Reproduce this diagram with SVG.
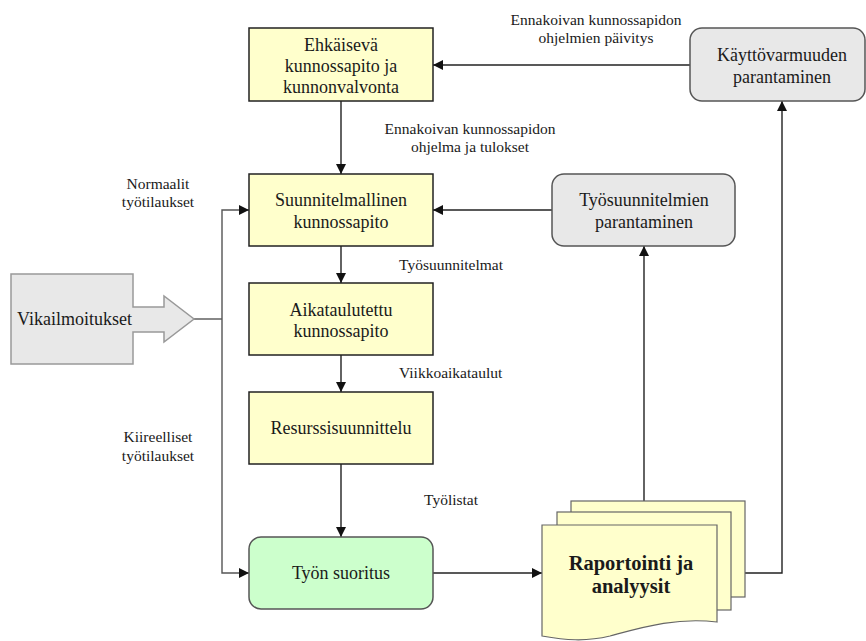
<svg xmlns="http://www.w3.org/2000/svg" width="866" height="641" viewBox="0 0 866 641">
<defs>
<marker id="ah" viewBox="0 0 10 10" refX="10" refY="5" markerWidth="10" markerHeight="10" markerUnits="userSpaceOnUse" orient="auto">
<path d="M0,0 L10,5 L0,10 z" fill="#111"/>
</marker>
</defs>
<style>
text{font-family:"Liberation Serif","Times New Roman",serif;fill:#1a1a1a}
.bt{font-size:18px;text-anchor:middle}
.lb{font-size:15.5px}
.c{text-anchor:middle}
.y{fill:#ffffcc;stroke:#222;stroke-width:1.5}
.g{fill:#e8e8e8;stroke:#555;stroke-width:1.5}
.gr{fill:#ccffcc;stroke:#555;stroke-width:1.5}
.doc{fill:#ffffcc;stroke:#666;stroke-width:1.2}
.ln{fill:none;stroke:#222;stroke-width:1.4}
</style>
<rect width="866" height="641" fill="#fff"/>

<g id="connectors">
<path class="ln" d="M341,101 V174" marker-end="url(#ah)"/>
<path class="ln" d="M341,246 V283" marker-end="url(#ah)"/>
<path class="ln" d="M341,355 V392" marker-end="url(#ah)"/>
<path class="ln" d="M341,464 V537" marker-end="url(#ah)"/>
<path class="ln" d="M690,65 H433" marker-end="url(#ah)"/>
<path class="ln" d="M552,210 H433" marker-end="url(#ah)"/>
<path class="ln" d="M194,319 H222" style="stroke:#555"/>
<path class="ln" d="M222,319 V210 H249" style="stroke:#555" marker-end="url(#ah)"/>
<path class="ln" d="M222,319 V573 H249" style="stroke:#555" marker-end="url(#ah)"/>
<path class="ln" d="M433,573 H542" marker-end="url(#ah)"/>
<path class="ln" d="M644,501 V246" marker-end="url(#ah)"/>
<path class="ln" d="M745,573 H782 V101" marker-end="url(#ah)"/>
</g>

<g id="labels">
<text class="lb c" x="596" y="25">Ennakoivan kunnossapidon</text>
<text class="lb c" x="596" y="43">ohjelmien päivitys</text>
<text class="lb c" x="470" y="134">Ennakoivan kunnossapidon</text>
<text class="lb c" x="470" y="152">ohjelma ja tulokset</text>
<text class="lb c" x="158" y="189">Normaalit</text>
<text class="lb c" x="158" y="207">työtilaukset</text>
<text class="lb" x="399" y="270">Työsuunnitelmat</text>
<text class="lb" x="399" y="378">Viikkoaikataulut</text>
<text class="lb c" x="158" y="442">Kiireelliset</text>
<text class="lb c" x="158" y="461">työtilaukset</text>
<text class="lb" x="424" y="505">Työlistat</text>
</g>

<g id="ehkaiseva">
<rect class="y" x="249" y="28" width="184" height="73"/>
<text class="bt" x="341" y="51">Ehkäisevä</text>
<text class="bt" x="341" y="72">kunnossapito ja</text>
<text class="bt" x="341" y="93">kunnonvalvonta</text>
</g>

<g id="suunnitelmallinen">
<rect class="y" x="249" y="174" width="184" height="72"/>
<text class="bt" x="341" y="206">Suunnitelmallinen</text>
<text class="bt" x="341" y="228">kunnossapito</text>
</g>

<g id="aikataulutettu">
<rect class="y" x="249" y="283" width="184" height="72"/>
<text class="bt" x="341" y="316">Aikataulutettu</text>
<text class="bt" x="341" y="337">kunnossapito</text>
</g>

<g id="resurssi">
<rect class="y" x="249" y="392" width="184" height="72"/>
<text class="bt" x="341" y="434">Resurssisuunnittelu</text>
</g>

<g id="tyon-suoritus">
<rect class="gr" x="249" y="537" width="184" height="72" rx="12"/>
<text class="bt" x="341" y="579">Työn suoritus</text>
</g>

<g id="vikailmoitukset">
<path class="g" d="M11,274 H133 V307 H164 V296 L194,319 L164,342 V332 H133 V364 H11 Z" style="stroke:#999"/>
<text style="font-size:18px" x="17" y="325">Vikailmoitukset</text>
</g>

<g id="kayttovarmuus">
<rect class="g" x="690" y="28" width="175" height="73" rx="12"/>
<text class="bt" x="782" y="61">Käyttövarmuuden</text>
<text class="bt" x="782" y="83">parantaminen</text>
</g>

<g id="tyosuunnitelmien">
<rect class="g" x="552" y="174" width="183" height="72" rx="12"/>
<text class="bt" x="644" y="206">Työsuunnitelmien</text>
<text class="bt" x="644" y="228">parantaminen</text>
</g>

<g id="raportointi">
<rect class="doc" x="571" y="501" width="174" height="96"/>
<rect class="doc" x="557" y="512" width="174" height="98"/>
<path class="doc" d="M542,525 H717 V622 C675,617 640,628 610,636 C585,642 565,640 542,636 Z"/>
<text x="631" y="570" style="font-size:20.5px;font-weight:bold;text-anchor:middle">Raportointi ja</text>
<text x="631" y="593" style="font-size:20.5px;font-weight:bold;text-anchor:middle">analyysit</text>
</g>
</svg>
